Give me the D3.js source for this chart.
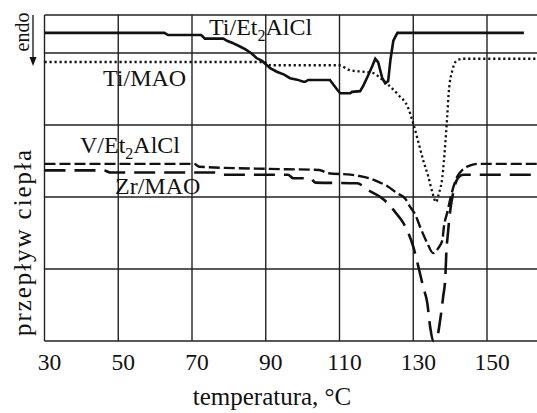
<!DOCTYPE html>
<html>
<head>
<meta charset="utf-8">
<script src="https://cdn.jsdelivr.net/npm/d3@7"></script>
<style>
  body { margin: 0; background: #fff; }
  text { font-family: "Liberation Serif", "DejaVu Serif", serif; fill: #111; }
</style>
</head>
<body>
<script>
// temperature ticks (°C) and horizontal grid levels (arbitrary heat-flow units)
var xTicks = [30, 50, 70, 90, 110, 130, 150];
var yGrid = [1, 2, 3, 4];

// DSC curves: [temperature, heat flow]
var tiEt2AlCl = [
  [30, 4.28], [62.5, 4.28], [63.5, 4.25], [72.5, 4.25], [73.5, 4.20], [78.5, 4.20],
  [79.5, 4.17], [81, 4.14], [83, 4.09], [84.5, 4.05], [86, 4.00], [87.5, 3.93],
  [89, 3.89], [91.2, 3.79], [93, 3.74], [95, 3.70], [96.6, 3.65], [98.5, 3.63],
  [100.2, 3.60], [100.7, 3.60], [101.5, 3.625], [107.4, 3.625], [109.4, 3.49],
  [110.2, 3.44], [112.9, 3.44], [113.4, 3.46], [115.6, 3.47], [116.5, 3.55],
  [117.6, 3.67], [118.9, 3.82], [119.7, 3.92], [120.5, 3.87], [121.6, 3.65],
  [122.4, 3.58], [123.2, 3.61], [123.8, 3.90], [124.6, 4.17], [125.7, 4.28], [160, 4.28]
];
var tiMAO = [
  [30, 3.875], [89.5, 3.875], [91.2, 3.83], [109.7, 3.83], [112.9, 3.76], [116.2, 3.74],
  [119.2, 3.72], [121.1, 3.65], [123.2, 3.56], [125.9, 3.42], [128.6, 3.24], [130, 3.02],
  [131.4, 2.76], [132.7, 2.51], [134.1, 2.28], [135.2, 2.06], [136.2, 1.93], [136.9, 2.04],
  [137.9, 2.28], [138.7, 2.75], [139.2, 3.11], [139.6, 3.44], [140.6, 3.76], [141.9, 3.90],
  [143.6, 3.92], [164, 3.92]
];
var vEt2AlCl = [
  [30, 2.46], [70.5, 2.46], [72, 2.42], [91, 2.39], [104.5, 2.375], [107, 2.33],
  [113, 2.31], [118, 2.26], [121, 2.20], [123, 2.15], [125.7, 2.05], [127.8, 1.98],
  [129.2, 1.86], [130.5, 1.76], [131.9, 1.58], [133.8, 1.36], [135.4, 1.22], [136.8, 1.29],
  [137.9, 1.40], [138.3, 1.58], [139.2, 1.78], [140.0, 1.96], [140.9, 2.14], [141.9, 2.28],
  [143.3, 2.375], [145.5, 2.44], [147.4, 2.46], [164, 2.46]
];
var zrMAO = [
  [30, 2.37], [46, 2.37], [48, 2.34], [76, 2.34], [78.5, 2.31], [96, 2.31], [97.5, 2.26],
  [102, 2.26], [103.5, 2.20], [114.8, 2.19], [117.6, 2.10], [121.9, 1.97], [125.1, 1.79],
  [127.3, 1.64], [128.6, 1.51], [130, 1.31], [131.4, 1.03], [132.7, 0.75], [133.8, 0.53],
  [134.6, 0.19], [135.4, 0.0], [136.5, 0.06], [137.3, 0.29], [138.1, 0.61], [138.7, 0.89],
  [139.0, 1.26], [139.3, 1.44], [140.0, 1.80], [141.1, 2.12], [142.2, 2.27], [143.6, 2.31],
  [164, 2.31]
];

var width = 537, height = 413;
var svg = d3.select("body").append("svg")
    .attr("width", width)
    .attr("height", height);

var x = d3.scaleLinear().domain([30, 150]).range([44.5, 487]);
var y = d3.scaleLinear().domain([0, 4]).range([341, 53]);
var plotTop = 15, plotBottom = y(0), plotLeft = x(30), plotRight = width;

// grid and frame
var grid = svg.append("g").attr("stroke", "#222").attr("stroke-width", 1.4);
grid.selectAll("line.v").data(xTicks).enter().append("line")
    .attr("x1", function(d) { return x(d); }).attr("x2", function(d) { return x(d); })
    .attr("y1", plotTop).attr("y2", plotBottom);
grid.selectAll("line.h").data(yGrid).enter().append("line")
    .attr("x1", plotLeft).attr("x2", plotRight)
    .attr("y1", function(d) { return y(d); }).attr("y2", function(d) { return y(d); });
grid.append("line").attr("x1", plotLeft).attr("x2", plotRight).attr("y1", plotTop).attr("y2", plotTop);
grid.append("line").attr("x1", plotLeft).attr("x2", plotRight).attr("y1", plotBottom).attr("y2", plotBottom);

// x tick labels
svg.selectAll("text.tick").data(xTicks).enter().append("text")
    .attr("x", function(d) { return x(d) + 5; })
    .attr("y", 370)
    .attr("text-anchor", "middle")
    .attr("font-size", "23.5px")
    .text(function(d) { return d; });

// curves
var line = d3.line()
    .x(function(d) { return x(d[0]); })
    .y(function(d) { return y(d[1]); });

svg.append("path").datum(tiMAO)
    .attr("d", line.curve(d3.curveMonotoneX))
    .attr("fill", "none").attr("stroke", "#111")
    .attr("stroke-width", 2.3).attr("stroke-dasharray", "2.2,2.8");
svg.append("path").datum(vEt2AlCl)
    .attr("d", line.curve(d3.curveMonotoneX))
    .attr("fill", "none").attr("stroke", "#111")
    .attr("stroke-width", 2.4).attr("stroke-dasharray", "11,4");
svg.append("path").datum(zrMAO)
    .attr("d", line.curve(d3.curveMonotoneX))
    .attr("fill", "none").attr("stroke", "#111")
    .attr("stroke-width", 2.6).attr("stroke-dasharray", "21,9");
svg.append("path").datum(tiEt2AlCl)
    .attr("d", line.curve(d3.curveLinear))
    .attr("fill", "none").attr("stroke", "#111")
    .attr("stroke-width", 2.6);

// curve labels (with subscript 2)
function label(px, py, parts) {
  var t = svg.append("text").attr("x", px).attr("y", py).attr("font-size", "24px");
  t.append("tspan").text(parts[0]);
  if (parts.length > 1) {
    t.append("tspan").attr("dy", 6).attr("font-size", "16px").text("2");
    t.append("tspan").attr("dy", -6).text(parts[1]);
  }
}
label(209, 35, ["Ti/Et", "AlCl"]);
label(103, 86, ["Ti/MAO"]);
label(80, 153, ["V/Et", "AlCl"]);
label(115, 194, ["Zr/MAO"]);

// axis titles
svg.append("text")
    .attr("x", 272).attr("y", 405)
    .attr("text-anchor", "middle")
    .attr("font-size", "25px")
    .text("temperatura, °C");

svg.append("text")
    .attr("transform", "translate(31,243) rotate(-90)")
    .attr("text-anchor", "middle")
    .attr("font-size", "25px")
    .attr("textLength", 186)
    .text("przepływ ciepła");

svg.append("text")
    .attr("transform", "translate(29,32) rotate(-90)")
    .attr("text-anchor", "middle")
    .attr("font-size", "20px")
    .text("endo");

// endo arrow
svg.append("line")
    .attr("x1", 33).attr("x2", 33).attr("y1", 15).attr("y2", 58)
    .attr("stroke", "#111").attr("stroke-width", 1.3);
svg.append("path")
    .attr("d", "M29.5,57 L36.5,57 L33,66 Z")
    .attr("fill", "#111");
</script>
</body>
</html>
